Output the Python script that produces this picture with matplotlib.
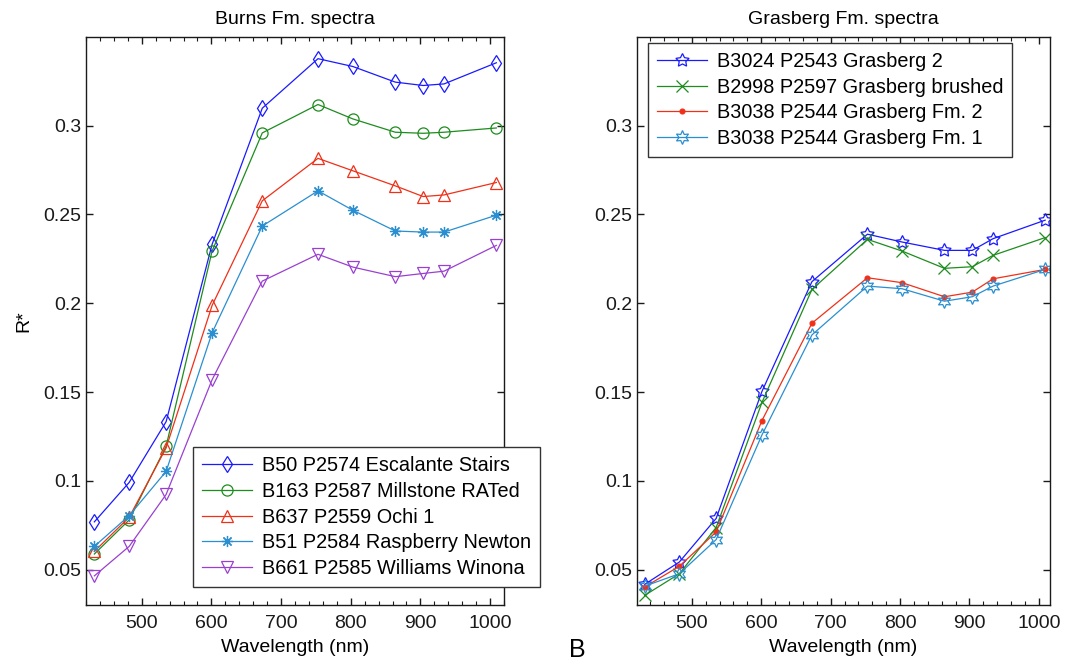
import matplotlib.pyplot as plt
from matplotlib.ticker import MultipleLocator, FuncFormatter

plt.rcParams['font.family'] = ['Liberation Sans', 'DejaVu Sans']

# Pancam filter wavelengths (nm)
wavelengths = [432, 482, 535, 601, 673, 753, 803, 864, 904, 934, 1009]

# Burns Fm. spectra
burns_labels = ['B50 P2574 Escalante Stairs', 'B163 P2587 Millstone RATed',
                'B637 P2559 Ochi 1', 'B51 P2584 Raspberry Newton',
                'B661 P2585 Williams Winona']
escalante = [0.0770, 0.0992, 0.1334, 0.2332, 0.3098, 0.3377, 0.3333, 0.3245, 0.3226, 0.3235, 0.3354]
millstone = [0.0589, 0.0781, 0.1196, 0.2294, 0.2959, 0.3119, 0.3038, 0.2963, 0.2957, 0.2963, 0.2987]
ochi = [0.0604, 0.0796, 0.1186, 0.1988, 0.2577, 0.2816, 0.2746, 0.2661, 0.2601, 0.2610, 0.2680]
raspberry = [0.0632, 0.0805, 0.1054, 0.1834, 0.2435, 0.2633, 0.2524, 0.2407, 0.2401, 0.2401, 0.2496]
winona = [0.0466, 0.0632, 0.0924, 0.1570, 0.2125, 0.2276, 0.2204, 0.2150, 0.2168, 0.2181, 0.2326]

# Grasberg Fm. spectra
grasberg_labels = ['B3024 P2543 Grasberg 2', 'B2998 P2597 Grasberg brushed',
                   'B3038 P2544 Grasberg Fm. 2', 'B3038 P2544 Grasberg Fm. 1']
grasberg2 = [0.0418, 0.0544, 0.0789, 0.1504, 0.2122, 0.2389, 0.2345, 0.2298, 0.2298, 0.2364, 0.2468]
brushed = [0.0356, 0.0478, 0.0738, 0.1442, 0.2078, 0.2360, 0.2294, 0.2197, 0.2206, 0.2270, 0.2370]
fm2 = [0.0403, 0.0520, 0.0713, 0.1340, 0.1888, 0.2144, 0.2116, 0.2037, 0.2063, 0.2138, 0.2191]
fm1 = [0.0408, 0.0478, 0.0670, 0.1259, 0.1822, 0.2097, 0.2082, 0.2012, 0.2037, 0.2097, 0.2191]

blue = '#1a1aff'
green = '#1e8c1e'
red = '#f03018'
cyan = '#2a8fd0'
purple = '#9a40d0'

fig = plt.figure(figsize=(10.68, 6.64), dpi=100)
ax1 = fig.add_axes([86 / 1068, 1 - 605 / 664, 418 / 1068, 568 / 664])
ax2 = fig.add_axes([637 / 1068, 1 - 605 / 664, 413 / 1068, 568 / 664])

lw = 0.9
ms = 8
mew = 0.9

burns = [
    (escalante, blue, 'd', ms),
    (millstone, green, 'o', ms),
    (ochi, red, '^', ms + 1),
    (raspberry, cyan, (8, 2, 0), ms),
    (winona, purple, 'v', ms + 1),
]
for (vals, col, mk, size), lab in zip(burns, burns_labels):
    ax1.plot(wavelengths, vals, color=col, lw=lw, marker=mk, ms=size,
             mfc='none', mec=col, mew=mew, label=lab)

grasberg = [
    (grasberg2, blue, (5, 1, 0), ms + 2, 'none'),
    (brushed, green, 'x', ms, 'none'),
    (fm2, red, '.', 7, red),
    (fm1, cyan, (6, 1, 0), ms + 2, 'none'),
]
for (vals, col, mk, size, fc), lab in zip(grasberg, grasberg_labels):
    ax2.plot(wavelengths, vals, color=col, lw=lw, marker=mk, ms=size,
             mfc=fc, mec=col, mew=mew, label=lab)

for ax, xl in [(ax1, (420, 1020)), (ax2, (421, 1016))]:
    ax.set_xlim(*xl)
    ax.set_ylim(0.0302, 0.3499)
    ax.xaxis.set_major_locator(MultipleLocator(100))
    ax.xaxis.set_minor_locator(MultipleLocator(20))
    ax.yaxis.set_major_locator(MultipleLocator(0.05))
    ax.yaxis.set_major_formatter(FuncFormatter(lambda v, p: '%g' % round(v, 2)))
    ax.tick_params(which='both', direction='in', top=True, right=True,
                   labelsize=14, colors='#1a1a1a')
    ax.tick_params(which='major', length=5, width=1)
    ax.tick_params(which='minor', length=3, width=0.8)
    ax.tick_params(axis='x', pad=7)
    for s in ax.spines.values():
        s.set_linewidth(1)
        s.set_color('#1a1a1a')
    ax.set_xlabel('Wavelength (nm)', fontsize=14, labelpad=5)

ax1.set_title('Burns Fm. spectra', fontsize=14, pad=9)
ax2.set_title('Grasberg Fm. spectra', fontsize=14, pad=9)
ax1.set_ylabel('R*', fontsize=14, labelpad=8)

leg_kw = dict(bbox_transform=fig.transFigure, fontsize=14.3, frameon=True,
              fancybox=False, framealpha=1, edgecolor='#333333',
              borderaxespad=0, handlelength=2.5, handletextpad=0.5,
              labelspacing=0.34, borderpad=0.45)

leg1 = ax1.legend(loc='lower left', bbox_to_anchor=(193 / 1068, 1 - 587 / 664), **leg_kw)
leg1.get_frame().set_linewidth(1)

leg2 = ax2.legend(loc='upper left', bbox_to_anchor=(648 / 1068, 1 - 43 / 664), **leg_kw)
leg2.get_frame().set_linewidth(1)

fig.text(577 / 1068, 1 - 650 / 664, 'B', fontsize=18, ha='center', va='center')

fig.savefig('out.png', dpi=100)
